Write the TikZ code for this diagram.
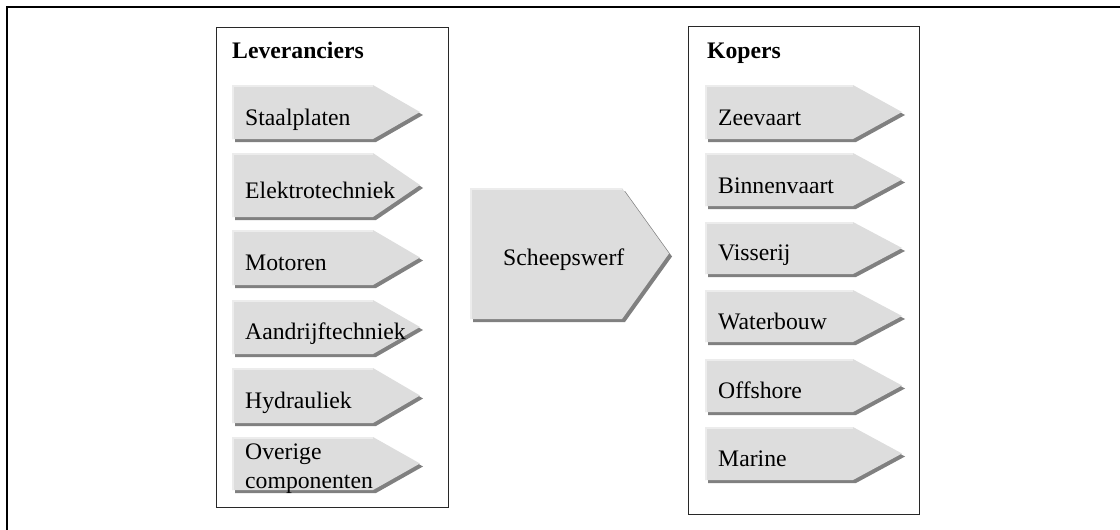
\documentclass[tikz,border=0pt]{standalone}
\usepackage{fontspec}
\setmainfont{Liberation Serif}
\definecolor{chevfill}{RGB}{221,221,221}
\definecolor{chevlight}{RGB}{236,236,236}
\definecolor{chevshadow}{RGB}{128,128,128}
\definecolor{boxline}{RGB}{40,40,40}
\tikzset{
  frameline/.style={draw=black, line width=2.4pt},
  groupbox/.style={draw=boxline, line width=1pt},
  chevlabel/.style={inner sep=0pt, font=\fontsize{23.7}{29}\selectfont, anchor=base west},
  chevlabelml/.style={inner sep=0pt, font=\fontsize{23.7}{29.5}\selectfont, anchor=west, align=left},
  headlabel/.style={inner sep=0pt, font=\fontsize{23.7}{29}\selectfont\bfseries, anchor=base west},
}
% #1 x0, #2 top, #3 bottom, #4 x notch, #5 x tip
\newcommand\chevshape[5]{%
  \fill[chevshadow] (#1+3,#2+3) -- (#4+3,#2+3) -- (#5+3,{(#2+#3)/2+3}) -- (#4+3,#3+3) -- (#1+3,#3+3) -- cycle;
  \fill[chevfill] (#1,#2) -- (#4,#2) -- (#5,{(#2+#3)/2}) -- (#4,#3) -- (#1,#3) -- cycle;
  \draw[chevlight, line width=1.5pt] (#1+0.75,#3) -- (#1+0.75,#2+0.75) -- (#4,#2+0.75);
}
\begin{document}
\begin{tikzpicture}[x=1pt, y=-1pt]
\useasboundingbox (0,0) rectangle (1120,530);
\begin{scope}
\clip (0,0) rectangle (1120,530);
\draw[frameline] (7,7) rectangle (1140,560);
\end{scope}

% group boxes
\draw[groupbox] (216,27) rectangle (448,507);
\draw[groupbox] (688,26) rectangle (919,514);
\node[headlabel] (lev) at (232,58) {Leveranciers};
\node[headlabel] (kop) at (707,58) {Kopers};

% left chevrons
\chevshape{232}{85}{139}{373}{420}
\node[chevlabel] (staal) at (245,125) {Staalplaten};
\chevshape{232}{153}{217}{373}{420}
\node[chevlabel] (elek) at (245,198) {Elektrotechniek};
\chevshape{232}{230}{285}{373}{420}
\node[chevlabel] (motor) at (245,270) {Motoren};
\chevshape{232}{300}{354}{373}{420}
\node[chevlabel] (aandr) at (245,339.5) {Aandrijftechniek};
\chevshape{232}{368}{423}{373}{420}
\node[chevlabel] (hydr) at (245,408) {Hydrauliek};
\chevshape{232}{437}{490}{373}{420}
\node[chevlabelml] (overig) at (245,468.5) {Overige\\componenten};

% centre chevron
\chevshape{470}{188}{319}{622}{669}
\node[chevlabel] (werf) at (503,265) {Scheepswerf};

% right chevrons
\chevshape{705}{85}{139}{853}{902}
\node[chevlabel] (zee) at (718,125) {Zeevaart};
\chevshape{705}{153}{206}{853}{902}
\node[chevlabel] (binnen) at (718,193) {Binnenvaart};
\chevshape{705}{222}{274}{853}{902}
\node[chevlabel] (visser) at (718,260.5) {Visserij};
\chevshape{705}{290}{342}{853}{902}
\node[chevlabel] (water) at (718,329) {Waterbouw};
\chevshape{705}{359}{412}{853}{902}
\node[chevlabel] (offsh) at (718,398) {Offshore};
\chevshape{705}{427}{480}{853}{902}
\node[chevlabel] (marine) at (718,466.5) {Marine};
\end{tikzpicture}
\end{document}
